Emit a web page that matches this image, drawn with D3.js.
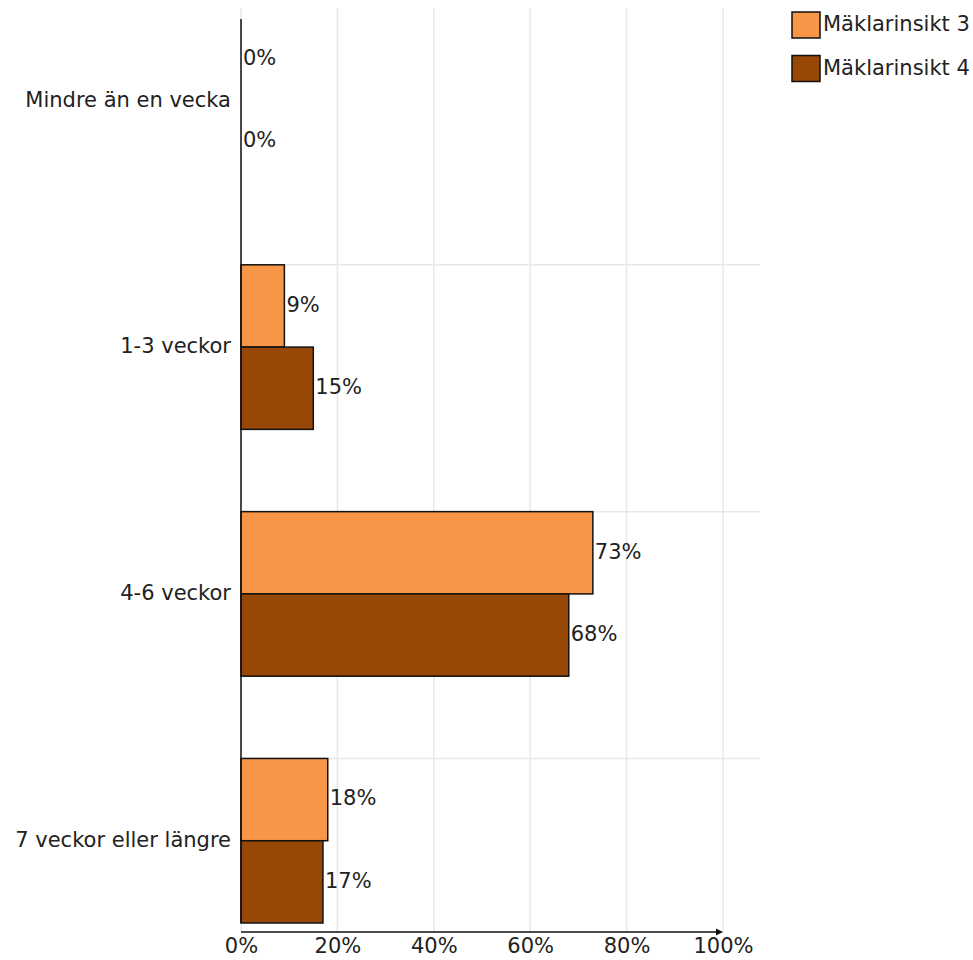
<!DOCTYPE html>
<html><head><meta charset="utf-8">
<script src="https://cdn.jsdelivr.net/npm/d3@7"></script>
<style>
html,body{margin:0;padding:0;background:#fff;}
svg text{font-family:"DejaVu Sans",Verdana,sans-serif;font-size:21px;fill:#222;}
</style></head>
<body>
<script>
const categories = ["Mindre än en vecka", "1-3 veckor", "4-6 veckor", "7 veckor eller längre"];
const seriesNames = ["Mäklarinsikt 3", "Mäklarinsikt 4"];
const seriesColors = ["#F79646", "#974706"];
const valuesS3 = [0, 9, 73, 18];
const valuesS4 = [0, 15, 68, 17];
const xTicks = [0, 20, 40, 60, 80, 100];

const W = 973, H = 960;
const svg = d3.select("body").append("svg").attr("width", W).attr("height", H);

const x = d3.scaleLinear().domain([0, 100]).range([241, 723]);
const y = d3.scaleBand().domain(categories).range([18, 923]).paddingInner(1/3).paddingOuter(0).align(0);
const sub = d3.scaleBand().domain(seriesNames).range([0, y.bandwidth()]);

const grid = "#e8e8e8";
// vertical gridlines
svg.append("g").selectAll("line").data(xTicks).join("line")
  .attr("x1", d => x(d)).attr("x2", d => x(d))
  .attr("y1", 8).attr("y2", 932)
  .attr("stroke", grid).attr("stroke-width", 1.5);
// horizontal gridlines
svg.append("g").selectAll("line").data(categories.slice(1)).join("line")
  .attr("x1", x(0)).attr("x2", 760)
  .attr("y1", d => y(d)).attr("y2", d => y(d))
  .attr("stroke", grid).attr("stroke-width", 1.5);

const data = [];
categories.forEach((c, i) => {
  data.push({cat: c, s: seriesNames[0], v: valuesS3[i], color: seriesColors[0]});
  data.push({cat: c, s: seriesNames[1], v: valuesS4[i], color: seriesColors[1]});
});

// bars
svg.append("g").selectAll("rect").data(data.filter(d => d.v > 0)).join("rect")
  .attr("x", x(0))
  .attr("y", d => y(d.cat) + sub(d.s))
  .attr("width", d => x(d.v) - x(0))
  .attr("height", sub.bandwidth())
  .attr("fill", d => d.color)
  .attr("stroke", "#111").attr("stroke-width", 1.5);

// value labels
svg.append("g").selectAll("text").data(data).join("text")
  .attr("x", d => x(d.v) + 2)
  .attr("y", d => y(d.cat) + sub(d.s) + sub.bandwidth() / 2)
  .attr("dy", "0.28em")
  .text(d => d.v + "%");

// y axis line
svg.append("line").attr("x1", x(0)).attr("x2", x(0)).attr("y1", 19).attr("y2", 923)
  .attr("stroke", "#111").attr("stroke-width", 1.5);
// category labels
svg.append("g").selectAll("text").data(categories).join("text")
  .attr("x", 231)
  .attr("y", d => y(d) + y.bandwidth() / 2)
  .attr("dy", "0.3em")
  .attr("text-anchor", "end")
  .text(d => d);

// x axis
const xAxis = d3.axisBottom(x).tickValues(xTicks).tickFormat(d => d + "%").tickSize(0).tickPadding(6);
const gx = svg.append("g").attr("transform", "translate(0,932)").call(xAxis);
gx.select(".domain").remove();
gx.selectAll("text").attr("fill", "#222").style("font-size", "21px").style("font-family", '"DejaVu Sans",Verdana,sans-serif');
svg.append("line").attr("x1", x(0)).attr("x2", x(100) - 4).attr("y1", 932).attr("y2", 932)
  .attr("stroke", "#111").attr("stroke-width", 1.5);
svg.append("path")
  .attr("d", `M${x(100)},932 L${x(100) - 7},928.5 L${x(100) - 7},935.5 Z`)
  .attr("fill", "#111");

// legend
const lg = svg.append("g").selectAll("g").data(seriesNames).join("g")
  .attr("transform", (d, i) => `translate(792,${12 + i * 43.5})`);
lg.append("rect").attr("width", 28).attr("height", 26)
  .attr("fill", (d, i) => seriesColors[i]).attr("stroke", "#111").attr("stroke-width", 1.5);
lg.append("text").attr("x", 31).attr("y", 13).attr("dy", "0.3em").text(d => d);
</script>
</body></html>
